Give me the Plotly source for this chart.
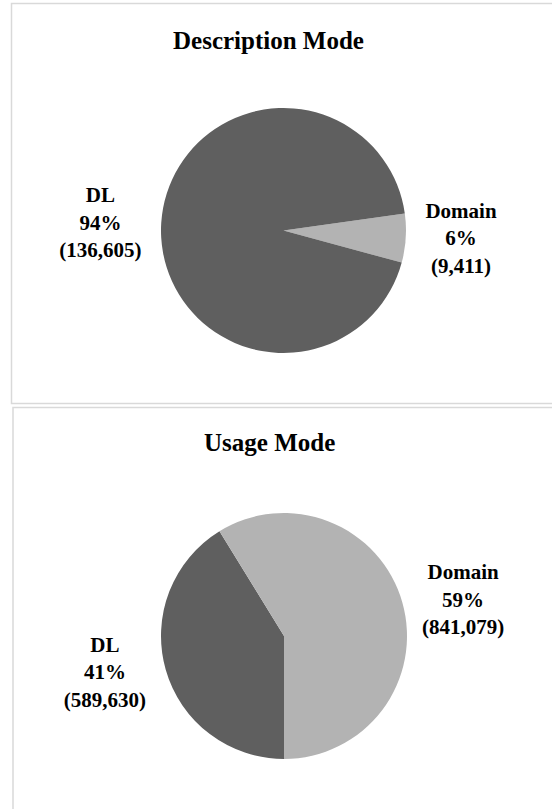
import plotly.graph_objects as go

W, H = 552, 809

# Data
labels_desc = ["Domain", "DL"]
values_desc = [9411, 136605]
labels_usage = ["DL", "Domain"]
values_usage = [589630, 841079]
titles = ["Description Mode", "Usage Mode"]

colors = {"DL": "#5f5f5f", "Domain": "#b3b3b3"}
FONT = "Liberation Serif, Times New Roman, serif"


def px_x(x):
    return x / W


def px_y(y):
    return 1 - y / H


tmpl = "<b>%{label}<br>%{percent:.0%}<br>(%{value:,})</b>"

fig = go.Figure()
fig.add_trace(go.Pie(
    labels=labels_desc, values=values_desc, sort=False,
    direction="clockwise", rotation=82,
    marker=dict(colors=[colors[l] for l in labels_desc], line=dict(width=0)),
    texttemplate=tmpl, textposition="outside", textinfo="none",
    textfont=dict(family=FONT, size=21, color="#000000"),
    domain=dict(x=[px_x(161), px_x(406)], y=[px_y(353), px_y(108)]),
    showlegend=False, hoverinfo="label+value+percent",
))
fig.add_trace(go.Pie(
    labels=labels_usage, values=values_usage, sort=False,
    direction="clockwise", rotation=180,
    marker=dict(colors=[colors[l] for l in labels_usage], line=dict(width=0)),
    texttemplate=tmpl, textposition="outside", textinfo="none",
    textfont=dict(family=FONT, size=21, color="#000000"),
    domain=dict(x=[px_x(161), px_x(407)], y=[px_y(759), px_y(513)]),
    showlegend=False, hoverinfo="label+value+percent",
))

shapes = [
    dict(type="rect", xref="paper", yref="paper",
         x0=px_x(11.5), x1=px_x(600), y0=px_y(403.5), y1=px_y(3.5),
         line=dict(color="#d9d9d9", width=1.5), fillcolor="rgba(0,0,0,0)", layer="below"),
    dict(type="rect", xref="paper", yref="paper",
         x0=px_x(13), x1=px_x(600), y0=px_y(850), y1=px_y(407.5),
         line=dict(color="#d9d9d9", width=1.5), fillcolor="rgba(0,0,0,0)", layer="below"),
]

annotations = [
    dict(text=f"<b>{titles[0]}</b>", x=px_x(268), y=px_y(40), xref="paper", yref="paper",
         showarrow=False, xanchor="center", yanchor="middle",
         font=dict(family=FONT, size=25, color="#000000")),
    dict(text=f"<b>{titles[1]}</b>", x=px_x(269), y=px_y(443), xref="paper", yref="paper",
         showarrow=False, xanchor="center", yanchor="middle",
         font=dict(family=FONT, size=25, color="#000000")),
]

fig.update_layout(
    width=W, height=H,
    margin=dict(l=0, r=0, t=0, b=0),
    paper_bgcolor="white", plot_bgcolor="white",
    shapes=shapes, annotations=annotations,
    showlegend=False,
)

fig.write_html("out.html")
